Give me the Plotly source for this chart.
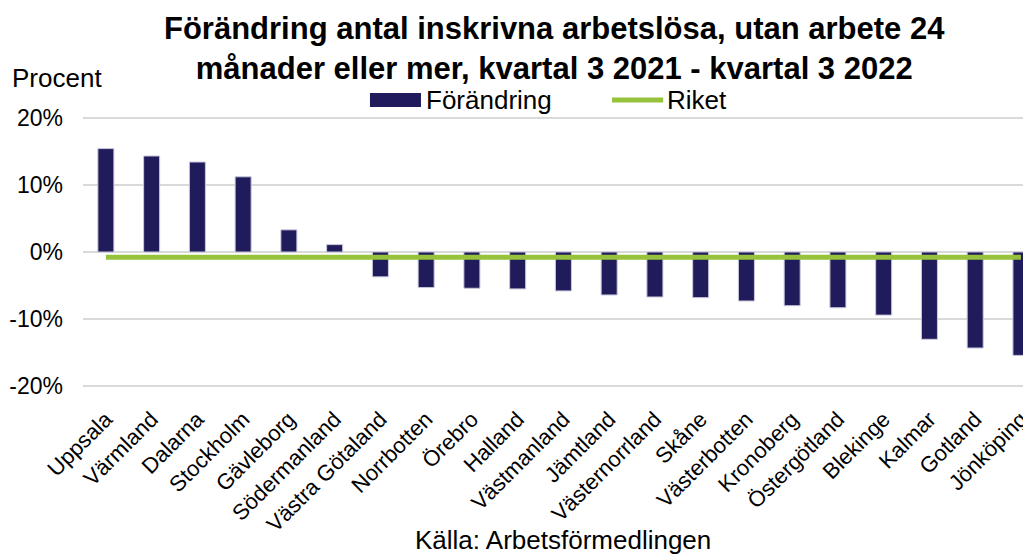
import plotly.graph_objects as go

regions = ["Uppsala", "Värmland", "Dalarna", "Stockholm", "Gävleborg", "Södermanland",
           "Västra Götaland", "Norrbotten", "Örebro", "Halland", "Västmanland", "Jämtland",
           "Västernorrland", "Skåne", "Västerbotten", "Kronoberg", "Östergötland",
           "Blekinge", "Kalmar", "Gotland", "Jönköping"]
forandring = [15.4, 14.3, 13.4, 11.2, 3.3, 1.1, -3.7, -5.3, -5.4, -5.5, -5.8, -6.4,
              -6.7, -6.8, -7.3, -8.0, -8.3, -9.4, -13.0, -14.3, -15.4]
riket_value = -0.8
riket = [riket_value] * len(regions)
yticks = [-20, -10, 0, 10, 20]
ytick_labels = ["-20%", "-10%", "0%", "10%", "20%"]

font = "Liberation Sans, Arial, sans-serif"
navy = "#201b5b"
green = "#96c23c"

fig = go.Figure()
fig.add_trace(go.Bar(
    x=regions, y=forandring, name="Förändring", width=0.35,
    marker=dict(color=navy, line=dict(color="#c9c8dc", width=1)),
    showlegend=False,
))
fig.add_trace(go.Scatter(
    x=regions, y=riket, name="Riket", mode="lines",
    line=dict(color=green, width=5), showlegend=False,
))

# The page body has an 8px default margin, so the figure is sized to fit the window.
fig.update_layout(
    width=1023, height=546,
    paper_bgcolor="white", plot_bgcolor="white",
    font=dict(family=font, color="black"),
    margin=dict(l=75, r=0, t=103, b=161),
    showlegend=False,
)
fig.update_xaxes(
    type="category", tickangle=-45, tickfont=dict(size=22, family=font),
    showgrid=False, showline=False, ticks="", range=[-0.5, 20.22], automargin=False,
    ticklabelstandoff=8,
)
fig.update_yaxes(
    range=[-21, 21], tickvals=yticks, ticktext=ytick_labels,
    tickfont=dict(size=23, family=font), showgrid=True, gridcolor="#d9d9d9",
    gridwidth=2, zeroline=True, zerolinecolor="#d9d9d9", zerolinewidth=2,
    showline=False, ticks="", ticklabelstandoff=19, automargin=False,
)

# Title
fig.add_annotation(
    text="<b>Förändring antal inskrivna arbetslösa, utan arbete 24<br>månader eller mer, kvartal 3 2021 - kvartal 3 2022</b>",
    xref="paper", yref="paper", x=0.497, xanchor="center", y=1.362, yanchor="top",
    showarrow=False, font=dict(size=31, family=font, color="black"),
)
# Axis unit label
fig.add_annotation(text="Procent", xref="paper", yref="paper", x=-0.077, xanchor="left",
                   y=1.117, yanchor="middle", showarrow=False, font=dict(size=26, family=font))
# Custom legend
fig.add_shape(type="rect", xref="paper", yref="paper", x0=0.3027, x1=0.3565, y0=1.0142, y1=1.0638,
              fillcolor=navy, line=dict(width=0))
fig.add_annotation(text="Förändring", xref="paper", yref="paper", x=0.3597, xanchor="left",
                   y=1.039, yanchor="middle", showarrow=False, font=dict(size=26, family=font))
fig.add_shape(type="line", xref="paper", yref="paper", x0=0.558, x1=0.612, y0=1.039, y1=1.039,
              line=dict(color=green, width=5))
fig.add_annotation(text="Riket", xref="paper", yref="paper", x=0.614, xanchor="left",
                   y=1.039, yanchor="middle", showarrow=False, font=dict(size=26, family=font))
# Source
fig.add_annotation(text="Källa: Arbetsförmedlingen", xref="paper", yref="paper",
                   x=0.5063, xanchor="center", y=-0.521, yanchor="middle", showarrow=False,
                   font=dict(size=26, family=font))

fig.write_html("out.html")
